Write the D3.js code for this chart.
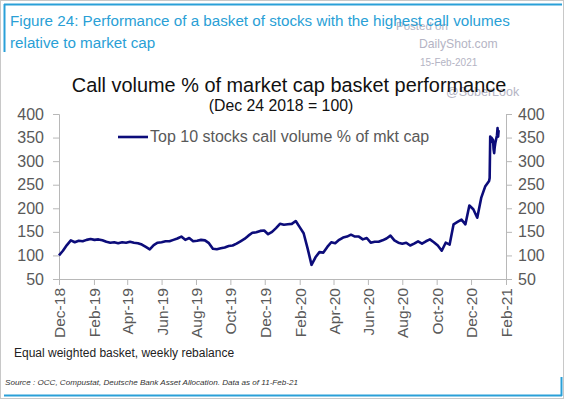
<!DOCTYPE html>
<html>
<head>
<meta charset="utf-8">
<script src="https://cdn.jsdelivr.net/npm/d3@7"></script>
<style>
  body { margin: 0; background: #fff; }
  svg { display: block; font-family: "Liberation Sans", Arial, sans-serif; }
</style>
</head>
<body>
<div id="chart"></div>
<script>
// basket index, weekly from Dec 24 2018 up to Jan 25 2021
var startDate = new Date(2018, 11, 24);
var weeklyValues = [
  100, 110, 122, 132, 128, 131, 130, 133, 135, 133,
  134, 132, 129, 127, 128, 126, 128, 127, 129, 127,
  126, 123, 118, 113, 122, 127, 128, 130, 130, 133,
  136, 140, 133, 137, 130, 131, 133, 132, 126, 114,
  113, 115, 117, 120, 121, 125, 130, 135, 142, 148,
  149, 152, 153, 145, 150, 158, 167, 165, 166, 167,
  173, 160, 147, 115, 80, 96, 107, 106, 118, 128,
  126, 133, 138, 140, 144, 140, 140, 134, 137, 127,
  129, 129, 132, 136, 142, 132, 127, 125, 127, 121,
  125, 130, 125, 130, 134, 128, 121, 110, 127, 123,
  166, 171, 176, 166, 206, 198, 180, 222, 246, 258
];
// daily points for the last weeks (call volume spike)
var tailDates = ["2021-01-26", "2021-01-27", "2021-01-28", "2021-01-29", "2021-02-01",
  "2021-02-02", "2021-02-03", "2021-02-04", "2021-02-05", "2021-02-08",
  "2021-02-09", "2021-02-10", "2021-02-11"];
var tailValues = [264, 352, 340, 350, 345, 325, 317, 330, 338, 355, 370, 352, 366];

var yTicks = [50, 100, 150, 200, 250, 300, 350, 400];
var xTickDates = ["2018-12-24", "2019-02-24", "2019-04-24", "2019-06-24", "2019-08-24",
  "2019-10-24", "2019-12-24", "2020-02-24", "2020-04-24", "2020-06-24",
  "2020-08-24", "2020-10-24", "2020-12-24", "2021-02-24"];
var seriesName = "Top 10 stocks call volume % of mkt cap";

var parse = d3.timeParse("%Y-%m-%d");
var data = [];
weeklyValues.forEach(function(v, i) {
  data.push({date: d3.timeDay.offset(startDate, i * 7), value: v});
});
tailDates.forEach(function(d, i) {
  data.push({date: parse(d), value: tailValues[i]});
});

var W = 564, H = 399;
var margin = {top: 114, right: 58, bottom: 120, left: 59};
var width = W - margin.left - margin.right;
var height = H - margin.top - margin.bottom;

var svg = d3.select("#chart").append("svg")
  .attr("width", W)
  .attr("height", H);

// frame
svg.append("rect").attr("x", 0.5).attr("y", 0.5).attr("width", W - 1).attr("height", H - 1)
  .attr("fill", "none").attr("stroke", "#c8c8c8");
svg.append("line").attr("x1", 4).attr("x2", 562).attr("y1", 4.5).attr("y2", 4.5)
  .attr("stroke", "#2aa0d8").attr("stroke-width", 2);
svg.append("line").attr("x1", 4.5).attr("x2", 4.5).attr("y1", 4).attr("y2", 52)
  .attr("stroke", "#2aa0d8").attr("stroke-width", 2);
svg.append("line").attr("x1", 4).attr("x2", 562).attr("y1", 395.5).attr("y2", 395.5)
  .attr("stroke", "#2aa0d8").attr("stroke-width", 2);
svg.append("line").attr("x1", 561.5).attr("x2", 561.5).attr("y1", 377).attr("y2", 396)
  .attr("stroke", "#2aa0d8").attr("stroke-width", 2);

// watermark (sits behind the titles, as in the source)
var wm = svg.append("g").attr("fill", "#b4b4c4");
wm.append("text").attr("x", 396).attr("y", 30).attr("font-size", 11.5).text("Posted on");
wm.append("text").attr("x", 419).attr("y", 48).attr("font-size", 12.2).text("DailyShot.com");
wm.append("text").attr("x", 420).attr("y", 66).attr("font-size", 10).text("15-Feb-2021");
wm.append("text").attr("x", 446).attr("y", 96).attr("font-size", 12.5).text("@SoberLook");

// figure title
svg.append("text").attr("x", 10).attr("y", 26).attr("fill", "#2a9fd6").attr("font-size", 15.2)
  .text("Figure 24: Performance of a basket of stocks with the highest call volumes");
svg.append("text").attr("x", 10).attr("y", 48).attr("fill", "#2a9fd6").attr("font-size", 15.2)
  .text("relative to market cap");

// chart title
svg.append("text").attr("x", 289).attr("y", 92).attr("text-anchor", "middle")
  .attr("font-size", 19.9).attr("fill", "#111")
  .text("Call volume % of market cap basket performance");
svg.append("text").attr("x", 281).attr("y", 111).attr("text-anchor", "middle")
  .attr("font-size", 15.8).attr("fill", "#111")
  .text("(Dec 24 2018 = 100)");

var g = svg.append("g").attr("transform", "translate(" + margin.left + "," + margin.top + ")");

var x = d3.scaleTime()
  .domain([parse(xTickDates[0]), parse(xTickDates[xTickDates.length - 1])])
  .range([0, width]);
var y = d3.scaleLinear().domain([50, 400]).range([height, 0]);

var axisColor = "#b8b8b8", labelColor = "#595959";

// left axis
var yl = g.append("g").call(d3.axisLeft(y).tickValues(yTicks).tickSize(6).tickPadding(9));
// right axis
var yr = g.append("g").attr("transform", "translate(" + width + ",0)")
  .call(d3.axisRight(y).tickValues(yTicks).tickSize(6).tickPadding(6));
// bottom axis
var xa = g.append("g").attr("transform", "translate(0," + height + ")")
  .call(d3.axisBottom(x).tickValues(xTickDates.map(parse)).tickSize(6)
    .tickFormat(d3.timeFormat("%b-%y")));

[yl, yr, xa].forEach(function(a) {
  a.select(".domain").attr("stroke", axisColor);
  a.selectAll(".tick line").attr("stroke", axisColor);
  a.selectAll(".tick text").attr("fill", labelColor).attr("font-size", 16)
    .attr("font-family", "Liberation Sans, Arial, sans-serif");
});
xa.selectAll(".tick text")
  .attr("font-size", 15.5)
  .attr("text-anchor", "end")
  .attr("transform", "translate(0,9) rotate(-90)")
  .attr("x", 0).attr("y", 0).attr("dy", "0.36em");

// line
g.append("path")
  .datum(data)
  .attr("fill", "none")
  .attr("stroke", "#0c0c7a")
  .attr("stroke-width", 2.6)
  .attr("stroke-linejoin", "round")
  .attr("d", d3.line()
    .x(function(d) { return x(d.date); })
    .y(function(d) { return y(d.value); }));

// legend
svg.append("line").attr("x1", 118).attr("x2", 148).attr("y1", 137).attr("y2", 137)
  .attr("stroke", "#0c0c7a").attr("stroke-width", 2.6);
svg.append("text").attr("x", 150).attr("y", 142).attr("font-size", 16).attr("fill", labelColor)
  .text(seriesName);

// notes
svg.append("text").attr("x", 14).attr("y", 357).attr("font-size", 12).attr("fill", "#222")
  .text("Equal weighted basket, weekly rebalance");
svg.append("text").attr("x", 5).attr("y", 385).attr("font-size", 8.1).attr("font-style", "italic")
  .attr("fill", "#333")
  .text("Source : OCC, Compustat, Deutsche Bank Asset Allocation. Data as of 11-Feb-21");
</script>
</body>
</html>
